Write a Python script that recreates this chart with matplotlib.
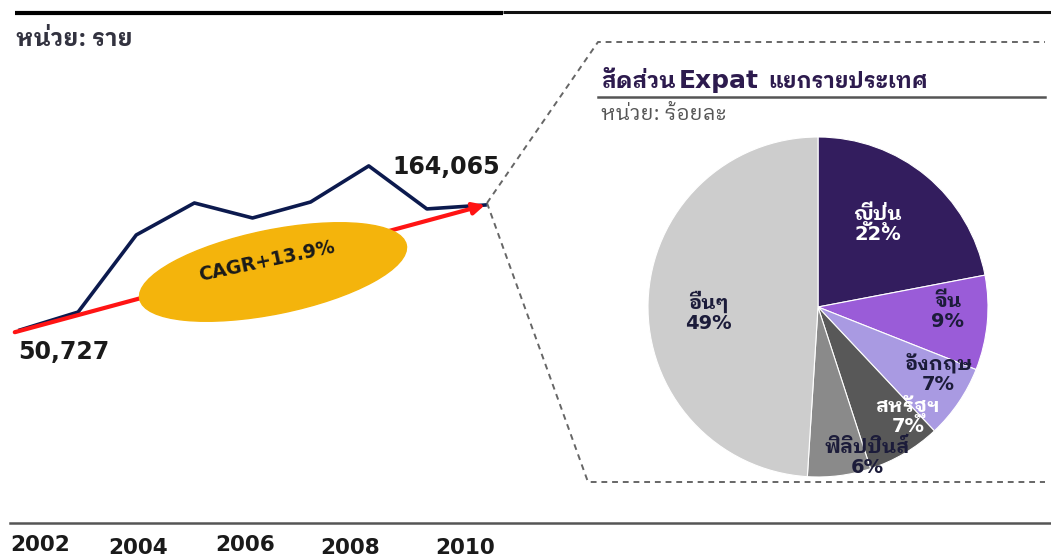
import matplotlib
matplotlib.use('Agg')
import matplotlib.pyplot as plt
from matplotlib.patches import Ellipse

years = [2002, 2003, 2004, 2005, 2006, 2007, 2008, 2009, 2010]
expats = [50727, 67000, 136900, 165900, 152300, 166800, 199500, 160500, 164065]
year_labels = ['2002', '2004', '2006', '2008', '2010']

countries = ['ญี่ปุ่น', 'จีน', 'อังกฤษ', 'สหรัฐฯ', 'ฟิลิปปินส์', 'อื่นๆ']
shares = [22, 9, 7, 7, 6, 49]
pie_colors = ['#331d5e', '#9a5cd8', '#a99ae2', '#585858', '#8a8a8a', '#cdcdcd']
label_colors = ['white', '#1c1c3a', '#1c1c3a', 'white', '#1c1c3a', '#1c1c3a']

THAI = ['IBM Plex Sans Thai Looped', 'DejaVu Sans']
LATIN = 'DejaVu Sans'
plt.rcParams['font.family'] = THAI

W, H = 1051, 558
fig = plt.figure(figsize=(W / 100, H / 100), dpi=100)

# background axes in pixel units (y measured from top)
bg = fig.add_axes([0, 0, 1, 1])
bg.set_xlim(0, W)
bg.set_ylim(H, 0)
bg.axis('off')

bg.plot([15, 503], [13, 13], color='black', lw=3, solid_capstyle='butt')
bg.plot([503, W], [12, 12], color='#111111', lw=2.2, solid_capstyle='butt')
bg.plot([10, W], [523, 523], color='#555555', lw=1.8)

bg.text(16, 39, 'หน่วย: ราย', fontsize=17, fontweight='bold', color='#333340', va='center')

# dashed callout box
dash = dict(color='#666666', lw=1.4, ls=(0, (3, 2.5)))
bg.plot([487, 598, 1045], [203, 42, 42], **dash)
bg.plot([487, 588, 1045], [203, 482, 482], **dash)

# year labels along the bottom
year_x = [40, 138, 245, 350, 465]
year_y = [545, 548, 545, 548, 548]
for lab, x, y in zip(year_labels, year_x, year_y):
    bg.text(x, y, lab, fontsize=15.5, fontweight='bold', color='#1a1a1a', ha='center',
            va='center', family=LATIN)

# overlay in unflipped pixel units for the CAGR ellipse
ov = fig.add_axes([0, 0, 1, 1])
ov.set_xlim(0, W)
ov.set_ylim(0, H)
ov.axis('off')
ov.set_zorder(3)

# line chart
ax = fig.add_axes([20 / W, (H - 330) / H, 465 / W, 125 / H])
ax.set_xlim(2002, 2010)
ax.set_ylim(50727, 164065)
ax.axis('off')
ax.set_zorder(2)
ax.plot(years, expats, color='#0c1a4e', lw=2.6, clip_on=False, zorder=2)
ax.annotate('', xy=(years[-1], expats[-1]), xytext=(years[0] - 0.09, expats[0] - 2000),
            arrowprops=dict(arrowstyle='-|>,head_length=0.7,head_width=0.35', color='#ff1414',
                            lw=3, shrinkA=0, shrinkB=0), zorder=3)
ax.annotate(f'{expats[-1]:,}', xy=(years[-1], expats[-1]), xytext=(15, 38),
            textcoords='offset pixels', fontsize=17, fontweight='bold', color='#1a1a1a',
            ha='right', va='center', family=LATIN)
ax.annotate(f'{expats[0]:,}', xy=(years[0], expats[0]), xytext=(-2, -22),
            textcoords='offset pixels', fontsize=17, fontweight='bold', color='#1a1a1a',
            ha='left', va='center', family=LATIN)

ov.add_patch(Ellipse((273, H - 272), 272, 84, angle=11.5, color='#f4b40c', zorder=1))
ov.text(267, H - 261, 'CAGR+13.9%', rotation=12, fontsize=13.5, fontweight='bold',
        color='#1a1a1a', ha='center', va='center', family=LATIN)

# pie
r = 170
pax = fig.add_axes([(818 - r) / W, (H - 307 - r) / H, 2 * r / W, 2 * r / H])
pax.pie(shares, colors=pie_colors, startangle=90, counterclock=False,
        wedgeprops=dict(edgecolor='white', linewidth=0.8))
pax.set_xlim(-1, 1)
pax.set_ylim(-1, 1)
label_pos = [(0.35, 0.506), (0.764, -0.003), (0.706, -0.376), (0.529, -0.624),
             (0.288, -0.865), (-0.647, -0.015)]
for name, val, c, (x, y) in zip(countries, shares, label_colors, label_pos):
    pax.text(x, y + 0.005, name, ha='center', va='baseline', fontsize=14.5,
             fontweight='bold', color=c)
    pax.text(x, y - 0.025, f'{val}%', ha='center', va='top', fontsize=14,
             fontweight='bold', color=c, family=LATIN)

# pie title, pieces placed one after another
fig.canvas.draw()
rend = fig.canvas.get_renderer()
t1 = bg.text(601, 88, 'สัดส่วน', fontsize=16.5, fontweight='bold', color='#2d1b4e', va='baseline')
ext = t1.get_window_extent(rend)
x2 = bg.transData.inverted().transform((ext.x1, 0))[0] + 3
t2 = bg.text(x2, 88, 'Expat', fontsize=18, fontweight='bold', color='#2d1b4e', va='baseline',
             family=LATIN)
ext = t2.get_window_extent(rend)
x3 = bg.transData.inverted().transform((ext.x1, 0))[0] + 10
bg.text(x3, 88, 'แยกรายประเทศ', fontsize=15.5, fontweight='bold', color='#2d1b4e', va='baseline')
bg.plot([598, 1045], [97, 97], color='#555555', lw=1.8)
bg.text(601, 114, 'หน่วย: ร้อยละ', fontsize=15, color='#555555', va='center')

fig.savefig('out.png', dpi=100)
